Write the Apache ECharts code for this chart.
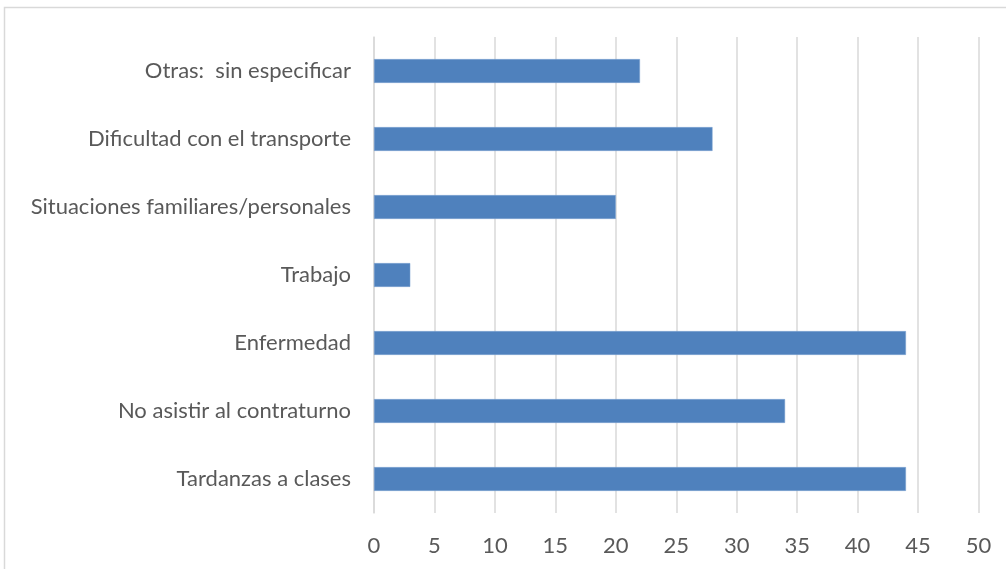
<!DOCTYPE html>
<html>
<head>
<meta charset="utf-8">
<script src="https://cdn.jsdelivr.net/npm/echarts@6/dist/echarts.min.js"></script>
<style>
html,body{margin:0;padding:0;background:#fff;}
#chart{width:1006px;height:569px;}
</style>
</head>
<body>
<div id="chart"></div>
<script>
const categories = [
  "Otras:  sin especificar",
  "Dificultad con el transporte",
  "Situaciones familiares/personales",
  "Trabajo",
  "Enfermedad",
  "No asistir al contraturno",
  "Tardanzas a clases"
];
const values = [22, 28, 20, 3, 44, 34, 44];
const xTicks = { min: 0, max: 50, interval: 5 };

const chart = echarts.init(document.getElementById('chart'), null, {renderer: 'canvas'});
const font = 'Lato, "Open Sans", sans-serif';
chart.setOption({
  animation: false,
  backgroundColor: '#ffffff',
  graphic: [{
    type: 'rect',
    shape: {x: 4.5, y: 7.5, width: 1020, height: 600},
    style: {fill: 'none', stroke: '#d9d9d9', lineWidth: 1.5},
    silent: true
  }],
  grid: {left: 374, right: 27.5, top: 37, bottom: 56, containLabel: false},
  xAxis: {
    type: 'value',
    min: xTicks.min, max: xTicks.max, interval: xTicks.interval,
    axisLine: {show: false},
    axisTick: {show: false},
    axisLabel: {color: '#595959', fontSize: 22, fontFamily: font, margin: 22},
    splitLine: {show: true, lineStyle: {color: '#d9d9d9', width: 1.5}}
  },
  yAxis: {
    type: 'category',
    data: categories,
    inverse: true,
    axisLine: {show: true, lineStyle: {color: '#d9d9d9', width: 1.5}},
    axisTick: {show: false},
    axisLabel: {color: '#595959', fontSize: 22, fontFamily: font, margin: 23},
    splitLine: {show: false}
  },
  series: [{
    type: 'bar',
    data: values,
    barWidth: '35%',
    itemStyle: {color: '#4F81BD', borderColor: '#7ea4d3', borderWidth: 0.5}
  }]
});
</script>
</body>
</html>
